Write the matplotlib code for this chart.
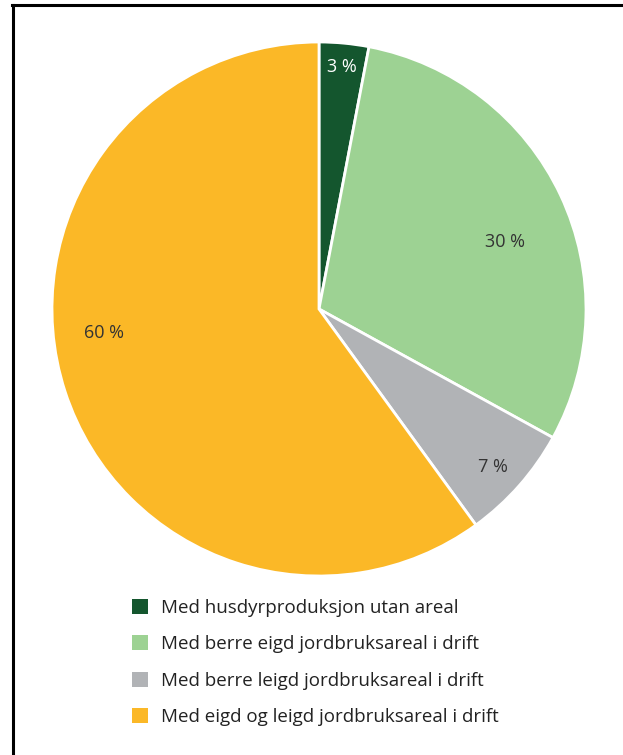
import matplotlib.pyplot as plt
from matplotlib.lines import Line2D
from matplotlib.patches import Patch
import numpy as np

# data
categories = [
    "Med husdyrproduksjon utan areal",
    "Med berre eigd jordbruksareal i drift",
    "Med berre leigd jordbruksareal i drift",
    "Med eigd og leigd jordbruksareal i drift",
]
shares = [3, 30, 7, 60]
colors = ["#14562e", "#9dd293", "#b1b3b6", "#fbb827"]
text_colors = ["white", "#333333", "#333333", "#333333"]

# label placement tweaks (radius fraction, angle nudge in degrees)
label_radius = [0.91, 0.74, 0.88, 0.81]
label_nudge = [0, -5.5, -1, -11.5]

plt.rcParams['font.family'] = ['Open Sans', 'DejaVu Sans']

fig = plt.figure(figsize=(6.23, 7.55), dpi=100)
ax = fig.add_axes([52 / 623, 1 - 576 / 755, 534 / 623, 534 / 755])

wedges, _ = ax.pie(shares, colors=colors, startangle=90, counterclock=False,
                   wedgeprops=dict(edgecolor="white", linewidth=2))
ax.set_xlim(-1, 1)
ax.set_ylim(-1, 1)
ax.set_aspect("equal")
ax.axis("off")

for w, val, r, nudge, tc in zip(wedges, shares, label_radius, label_nudge, text_colors):
    mid = np.deg2rad((w.theta1 + w.theta2) / 2 + nudge)
    ax.text(r * np.cos(mid), r * np.sin(mid), f"{val} %", ha="center", va="center",
            fontsize=13, color=tc)

handles = [Patch(facecolor=c, edgecolor="none") for c in colors]
fig.legend(handles, categories, loc="upper left", bbox_to_anchor=(115 / 623, 1 - 582 / 755),
           frameon=False, fontsize=13.5, handlelength=0.85, handleheight=0.85,
           handletextpad=0.7, labelspacing=0.98, labelcolor="#222222")

# frame lines at top and left
fig.add_artist(Line2D([12 / 623, 1], [1 - 5 / 755, 1 - 5 / 755], color="black", lw=2.2))
fig.add_artist(Line2D([13 / 623, 13 / 623], [0, 1 - 5 / 755], color="black", lw=2.2))

fig.savefig("out.png", dpi=100)
